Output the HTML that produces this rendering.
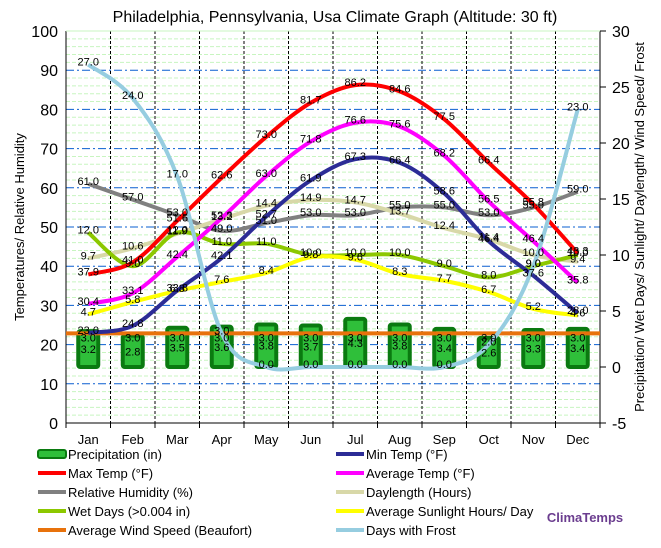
<!DOCTYPE html>
<html><head><meta charset="utf-8">
<style>
body{margin:0;background:#fff;font-family:"Liberation Sans",sans-serif;}
svg text{font-family:"Liberation Sans",sans-serif;}
</style></head>
<body>
<svg id="chart" width="661" height="543" xmlns="http://www.w3.org/2000/svg">
<text x="335" y="22" text-anchor="middle" font-size="16">Philadelphia, Pennsylvania, Usa Climate Graph (Altitude: 30 ft)</text>
<g id="grid"></g><g id="axes"></g><g id="marks"></g><g id="labels"></g>
<g id="legend" font-size="13"></g>
<text x="585" y="522" text-anchor="middle" font-size="13" font-weight="bold" fill="#6b3d8f">ClimaTemps</text>
</svg>
<script>
const months=["Jan","Feb","Mar","Apr","May","Jun","Jul","Aug","Sep","Oct","Nov","Dec"];
const precip=[3.2,2.8,3.5,3.6,3.8,3.7,4.3,3.8,3.4,2.6,3.3,3.4];
const maxTemp=[37.9,41.0,51.6,62.6,73.0,81.7,86.2,84.6,77.5,66.4,55.8,43.3];
const minTemp=[23.0,24.8,33.8,42.1,52.7,61.9,67.3,66.4,58.6,46.4,37.6,28.0];
const avgTemp=[30.4,33.1,42.4,52.3,63.0,71.8,76.6,75.6,68.2,56.5,46.4,35.8];
const humidity=[61,57,53,49,51,53,53,55,55,53,55,59];
const daylength=[9.7,10.6,11.9,13.2,14.4,14.9,14.7,13.7,12.4,11.4,10.0,9.4];
const wetDays=[12,9,12,11,11,10,10,10,9,8,9,10];
const sunlight=[4.7,5.8,6.8,7.6,8.4,9.8,9.6,8.3,7.7,6.7,5.2,4.6];
const wind=[3,3,3,3,3,3,3,3,3,3,3,3];
const frost=[27,24,17,3,0,0,0,0,0,2,9,23];
const leftTicks=[0,10,20,30,40,50,60,70,80,90,100];
const rightTicks=[-5,0,5,10,15,20,25,30];

const X0=66,X1=600,YT=31,YB=423;
const NS="http://www.w3.org/2000/svg";
const xs=i=>X0+(X1-X0)/12*(i+0.5);
const yl=v=>YB-(v/100)*(YB-YT);
const yr=v=>YB-((v+5)/35)*(YB-YT);
function mk(p,tag,at){const e=document.createElementNS(NS,tag);for(const k in at)e.setAttribute(k,at[k]);p.appendChild(e);return e;}
const G=document.getElementById('grid'),A=document.getElementById('axes'),M=document.getElementById('marks'),L=document.getElementById('labels'),LG=document.getElementById('legend');
// minor grid every 2 left units
for(let v=2;v<100;v+=2){if(v%10==0)continue;const l=mk(G,'line',{x1:X0,x2:X1,y1:yl(v),y2:yl(v),stroke:'#c8f5c0','stroke-width':1,'stroke-dasharray':'4,2'});

}
for(let v=10;v<100;v+=10){const l=mk(G,'line',{x1:X0,x2:X1,y1:yl(v),y2:yl(v),stroke:'#0a5fd0','stroke-width':1,'stroke-dasharray':'8,3,2,3'});

}
for(let i=1;i<12;i++){const x=X0+(X1-X0)/12*i;const l=mk(G,'line',{x1:x,x2:x,y1:YT,y2:YB,stroke:'#000','stroke-width':1,'stroke-dasharray':'3,2'});

}
// axes
let ax=mk(A,'line',{x1:X0,x2:X1,y1:YB,y2:YB,stroke:'#000'});
ax=mk(A,'line',{x1:X0,x2:X0,y1:YT,y2:YB,stroke:'#000'});
ax=mk(A,'line',{x1:X1,x2:X1,y1:YT,y2:YB,stroke:'#000'});
ax=mk(A,'line',{x1:X0,x2:X1,y1:YT,y2:YT,stroke:'#c8f5c0'});
leftTicks.forEach(v=>{const t=mk(A,'text',{x:X0-8,y:yl(v)+6,'text-anchor':'end','font-size':16});t.textContent=v;
});
rightTicks.forEach(v=>{mk(A,'line',{x1:X1,x2:X1+6,y1:yr(v),y2:yr(v),stroke:'#000'});const t=mk(A,'text',{x:X1+12,y:yr(v)+6,'font-size':16});t.textContent=v;
});
for(let i=0;i<=12;i++){const x=X0+(X1-X0)/12*i;mk(A,'line',{x1:x,x2:x,y1:YB,y2:YB+5,stroke:'#000'});}
months.forEach((m,i)=>{const t=mk(A,'text',{x:xs(i),y:444,'text-anchor':'middle','font-size':13});t.textContent=m;
});
let t=mk(A,'text',{transform:'translate(24,227) rotate(-90)','text-anchor':'middle','font-size':13});t.textContent='Temperatures/ Relative Humidity';

t=mk(A,'text',{transform:'translate(644,227) rotate(-90)','text-anchor':'middle','font-size':13});t.textContent='Precipitation/ Wet Days/ Sunlight/ Daylength/ Wind Speed/ Frost';

// bars
precip.forEach((v,i)=>{const r=mk(M,'rect',{x:xs(i)-10,y:yr(v),width:20,height:yr(0)-yr(v),fill:'#2fbf3a',stroke:'#0a7a10','stroke-width':4,rx:2});

});
function path(vals,f){const p=vals.map((v,i)=>[xs(i),f(v)]);let d=`M${p[0][0]},${p[0][1]}`;
for(let i=0;i<p.length-1;i++){const a=p[i-1]||p[i],b=p[i],c=p[i+1],e=p[i+2]||c;const t=0.17*3/3;
d+=` C${b[0]+(c[0]-a[0])/6},${b[1]+(c[1]-a[1])/6} ${c[0]-(e[0]-b[0])/6},${c[1]-(e[1]-b[1])/6} ${c[0]},${c[1]}`;}return d;}
const series=[
 ['wind-line',wind,yr,'#e8720c',false],
 ['humidity-line',humidity,yl,'#808080',true],
 ['daylength-line',daylength,yr,'#d8d8a8',true],
 ['wet-days-line',wetDays,yr,'#8cc800',true],
 ['sunlight-line',sunlight,yr,'#ffff00',true],
 ['min-temp-line',minTemp,yl,'#2c2c96',true],
 ['avg-temp-line',avgTemp,yl,'#ff00ff',true],
 ['max-temp-line',maxTemp,yl,'#ff0000',true],
 ['frost-line',frost,yr,'#96cde0',true]];
series.forEach(s=>{const p=mk(M,'path',{d:s[4]?path(s[1],s[2]):`M${X0},${s[2](s[1][0])} L${X1},${s[2](s[1][0])}`,fill:'none',stroke:s[3],'stroke-width':4});

});
const labelSets=[[precip,yr,7],[maxTemp,yl,-3],[minTemp,yl,-3],[avgTemp,yl,-3],[humidity,yl,-3],[daylength,yr,-3],[wetDays,yr,-3],[sunlight,yr,-3],[wind,yr,4],[frost,yr,-3]];
labelSets.forEach(s=>{s[0].forEach((v,i)=>{const off=s===labelSets[0]?(yr(0)-yr(v))/2+4:s[2];
const tt=mk(L,'text',{x:xs(i),y:s[1](v)+(s===labelSets[0]?off:s[2]+4),'text-anchor':'middle','font-size':11});tt.textContent=v.toFixed(1);

});});
// legend
const leg=[['Precipitation (in)','#0a7a10',12,456],['Min Temp (°F)','#2c2c96',310,456],['Max Temp (°F)','#ff0000',12,475],['Average Temp (°F)','#ff00ff',310,475],['Relative Humidity (%)','#808080',12,494],['Daylength (Hours)','#d8d8a8',310,494],['Wet Days (>0.004 in)','#8cc800',12,513],['Average Sunlight Hours/ Day','#ffff00',310,513],['Average Wind Speed (Beaufort)','#e8720c',12,532],['Days with Frost','#96cde0',310,532]];
leg.forEach((l,i)=>{const g=mk(LG,'g',{});


if(i==0)mk(g,'rect',{x:l[2]+26,y:l[3]-6,width:28,height:8,fill:'#2fbf3a',stroke:l[1],'stroke-width':2,rx:2});
else mk(g,'line',{x1:l[2]+26,x2:l[2]+54,y1:l[3]-2,y2:l[3]-2,stroke:l[1],'stroke-width':4});
const tx=mk(g,'text',{x:l[2]+56,y:l[3]+3});tx.textContent=l[0];});
</script>
</body></html>
